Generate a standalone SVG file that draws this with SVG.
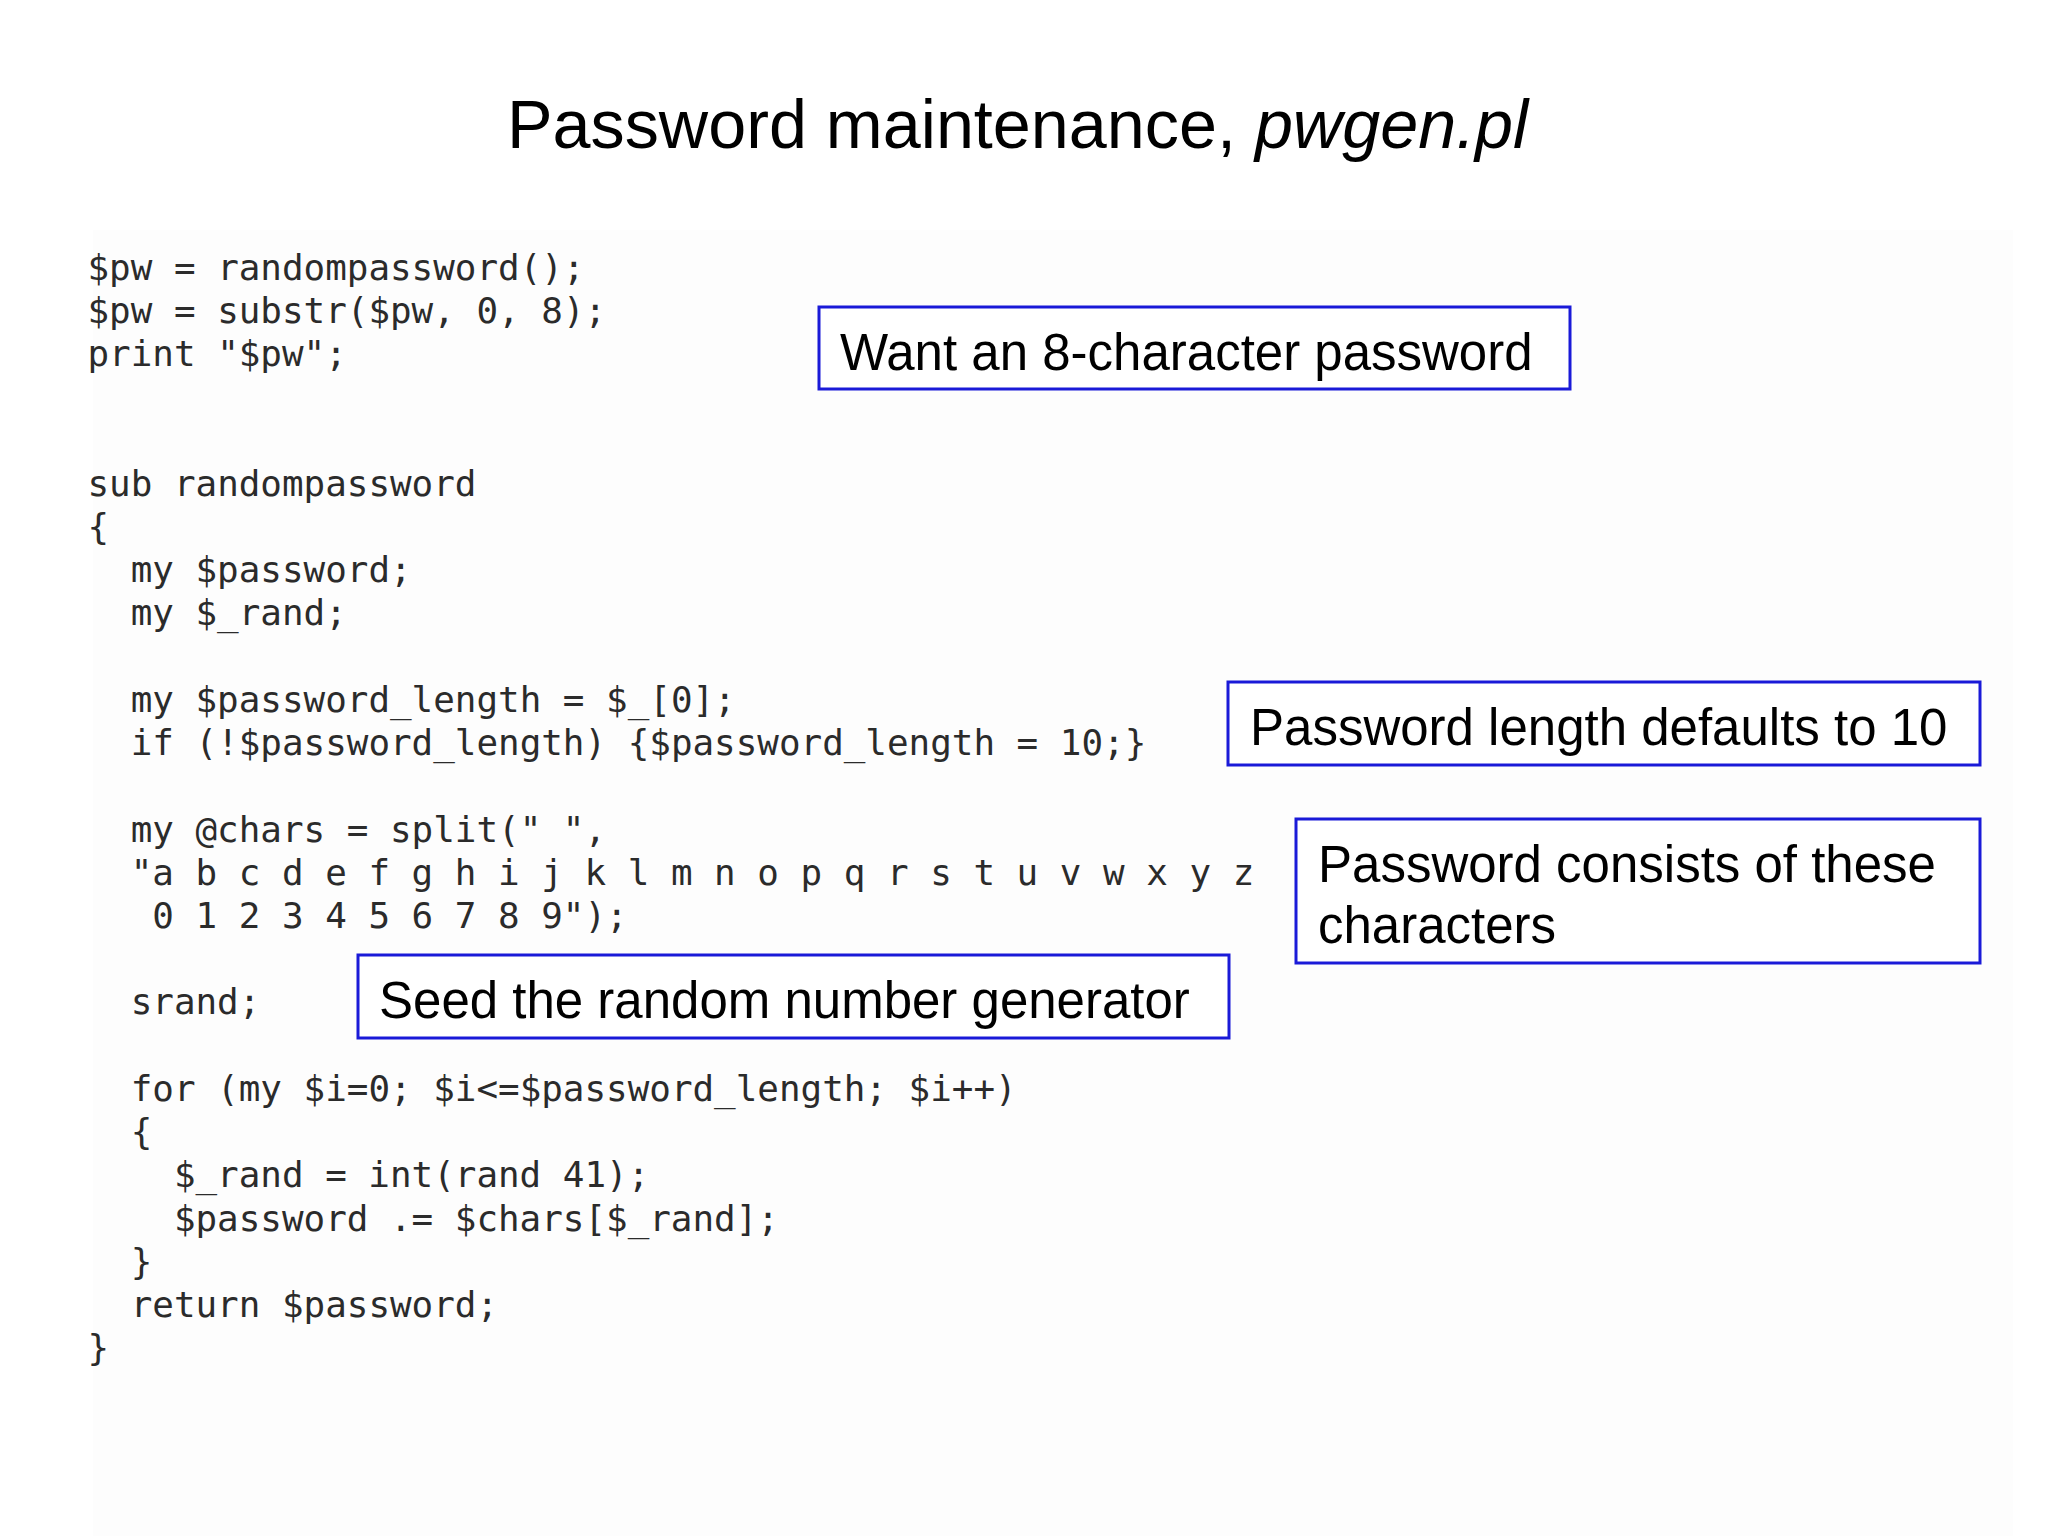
<svg xmlns="http://www.w3.org/2000/svg" width="2048" height="1536" viewBox="0 0 2048 1536">
<style>
.title{font-family:"Liberation Sans",Arial,sans-serif;font-size:68.3px;fill:#000}
.code{font-family:"DejaVu Sans Mono","Liberation Mono",monospace;font-size:35.9px;fill:#2b2b2b}
.box{fill:#ffffff;stroke:#1a1ad8;stroke-width:3}
.lbl{font-family:"Liberation Sans",Arial,sans-serif;font-size:51px;fill:#000}
</style>
<rect x="0" y="0" width="2048" height="1536" fill="#ffffff"/>
<rect x="93" y="230" width="1920" height="1306" fill="#fdfdfd"/>
<g id="title">
<text class="title" x="507" y="148">Password maintenance, <tspan font-style="italic">pwgen.pl</tspan></text>
</g>
<g id="code">
<text class="code" x="87.5" y="279.5">$pw = randompassword();</text>
<text class="code" x="87.5" y="322.7">$pw = substr($pw, 0, 8);</text>
<text class="code" x="87.5" y="366">print "$pw";</text>
<text class="code" x="87.5" y="495.7">sub randompassword</text>
<text class="code" x="87.5" y="538.9">{</text>
<text class="code" x="130.7" y="582.1">my $password;</text>
<text class="code" x="130.7" y="625.3">my $_rand;</text>
<text class="code" x="130.7" y="711.8">my $password_length = $_[0];</text>
<text class="code" x="130.7" y="755">if (!$password_length) {$password_length = 10;}</text>
<text class="code" x="130.7" y="841.5">my @chars = split(" ",</text>
<text class="code" x="130.7" y="884.7">"a b c d e f g h i j k l m n o p q r s t u v w x y z</text>
<text class="code" x="152.3" y="928">0 1 2 3 4 5 6 7 8 9");</text>
<text class="code" x="130.7" y="1014.4">srand;</text>
<text class="code" x="130.7" y="1100.9">for (my $i=0; $i&lt;=$password_length; $i++)</text>
<text class="code" x="130.7" y="1144.1">{</text>
<text class="code" x="173.9" y="1187.3">$_rand = int(rand 41);</text>
<text class="code" x="173.9" y="1230.6">$password .= $chars[$_rand];</text>
<text class="code" x="130.7" y="1273.8">}</text>
<text class="code" x="130.7" y="1317">return $password;</text>
<text class="code" x="87.5" y="1360.3">}</text>
</g>
<g id="note-length8">
<rect class="box" x="819" y="307" width="751" height="82"/>
<text class="lbl" x="840" y="369.5">Want an 8-character password</text>
</g>
<g id="note-default10">
<rect class="box" x="1228" y="682" width="752" height="83"/>
<text class="lbl" x="1250" y="745">Password length defaults to 10</text>
</g>
<g id="note-chars">
<rect class="box" x="1296" y="819" width="684" height="144"/>
<text class="lbl" x="1318" y="882">Password consists of these</text>
<text class="lbl" x="1318" y="943">characters</text>
</g>
<g id="note-seed">
<rect class="box" x="358" y="955" width="871" height="83"/>
<text class="lbl" x="379" y="1018">Seed the random number generator</text>
</g>
<g id="connectors"></g>
</svg>
